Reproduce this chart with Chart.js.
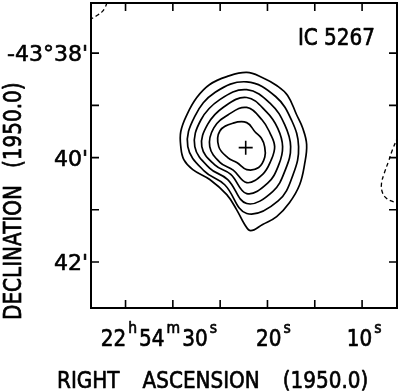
<!DOCTYPE html>
<html>
<head>
<meta charset="utf-8">
<script src="https://cdn.jsdelivr.net/npm/chart.js@4.4.1/dist/chart.umd.min.js"></script>
<style>
  body { margin: 0; background: #fff; }
  canvas { display: block; }
</style>
</head>
<body>
<canvas id="map" width="400" height="391"></canvas>
<script>
// RA in seconds past 22h54m, Dec in arcmin past -43 deg (1950.0)
const raRange = [6.31, 38.65];
const decRange = [37.04, 42.88];
const raTicks = [35, 30, 25, 20, 15, 10];
const decTicks = [38, 39, 40, 41, 42];
const decTickLabels = ["-43°38'", "", "40'", "", "42'"];
const raLabelValues = [30, 20, 10];
const raLabelParts = [["22", "h", "54", "m", "30", "s"], ["20", "s"], ["10", "s"]];

// solid contours, outermost first
const c1RA  = [29.16, 29.16, 28.52, 27.47, 26.10, 24.30, 22.19, 20.51, 19.03, 17.87, 16.92, 16.29, 15.86, 16.08, 16.60, 17.66, 19.03, 20.51, 21.77, 22.41, 23.25, 24.30, 26.10, 27.89, 28.84];
const c1Dec = [39.79, 39.50, 39.18, 38.85, 38.60, 38.45, 38.37, 38.47, 38.62, 38.81, 39.18, 39.43, 39.75, 40.13, 40.52, 40.86, 41.13, 41.28, 41.40, 41.28, 41.00, 40.71, 40.42, 40.23, 40.04];
const c2RA  = [28.42, 27.68, 25.52, 22.19, 19.14, 17.44, 16.71, 17.26, 18.87, 22.19, 24.52, 26.67];
const c2Dec = [39.79, 39.21, 38.75, 38.55, 38.83, 39.29, 39.79, 40.31, 40.83, 41.07, 40.52, 40.26];
const c3RA  = [27.68, 27.04, 25.04, 22.19, 19.61, 18.18, 17.55, 18.08, 19.45, 22.19, 24.20, 26.12];
const c3Dec = [39.79, 39.28, 38.89, 38.70, 38.98, 39.37, 39.79, 40.22, 40.65, 40.88, 40.42, 40.20];
const c4RA  = [26.94, 26.31, 24.62, 22.19, 20.08, 18.91, 18.40, 18.81, 19.98, 22.19, 23.88, 25.57];
const c4Dec = [39.79, 39.36, 39.03, 38.85, 39.13, 39.44, 39.79, 40.14, 40.49, 40.69, 40.32, 40.14];
const c5RA  = [26.10, 25.67, 24.15, 22.19, 20.56, 19.73, 19.24, 19.64, 20.51, 22.19, 23.62, 25.03];
const c5Dec = [39.79, 39.43, 39.18, 39.04, 39.28, 39.53, 39.79, 40.06, 40.32, 40.48, 40.24, 40.09];
const c6RA  = [25.15, 25.03, 23.62, 22.19, 21.30, 20.64, 20.30, 20.28, 20.93, 22.19, 23.20, 24.20];
const c6Dec = [39.79, 39.49, 39.34, 39.33, 39.51, 39.63, 39.79, 39.99, 40.19, 40.23, 40.10, 40.00];

// dashed (negative) contours at the map edges
const dashNwRA  = [38.80, 38.02, 37.49, 37.17, 36.90];
const dashNwDec = [37.36, 37.28, 37.21, 37.13, 37.00];
const dashEastRA  = [6.20, 6.79, 7.22, 7.64, 7.95, 7.85, 7.43, 6.79, 6.20];
const dashEastDec = [39.60, 39.85, 40.08, 40.29, 40.50, 40.67, 40.78, 40.84, 40.87];

// optical position
const peakRA = [22.30];
const peakDec = [39.81];

// closed loop: wrap the ends so every drawn segment has real neighbours
function loopData(ra, dec) {
    const n = ra.length;
    const idx = [n - 1];
    for (let i = 0; i < n; i++) idx.push(i);
    idx.push(0, 1);
    return idx.map(i => ({ x: ra[i], y: dec[i] }));
}

function openData(ra, dec) {
    return ra.map((v, i) => ({ x: v, y: dec[i] }));
}

function contour(ra, dec) {
    const data = loopData(ra, dec);
    const last = data.length - 1;
    return {
        data: data,
        showLine: true,
        borderColor: '#000',
        borderWidth: 1.7,
        pointRadius: 0,
        tension: 0.4,
        fill: false,
        segment: {
            borderColor: ctx => (ctx.p0DataIndex === 0 || ctx.p1DataIndex === last) ? 'rgba(0,0,0,0)' : undefined
        }
    };
}

function dashed(ra, dec) {
    return {
        data: openData(ra, dec),
        showLine: true,
        borderColor: '#000',
        borderWidth: 1.3,
        borderDash: [4, 3],
        pointRadius: 0,
        tension: 0.4,
        fill: false
    };
}

const mainFont = '20px "DejaVu Sans"';
const supFont = '14px "DejaVu Sans"';
const decFont = '22px "DejaVu Sans"';
const raLabelShift = [-14, 6, 2];

// text stretched a little taller and heavier, like the original lettering
function tallText(ctx, text, x, y, stretch) {
    ctx.save();
    ctx.translate(x, y);
    ctx.scale(1, stretch);
    ctx.fillText(text, 0, 0);
    ctx.strokeText(text, 0, 0);
    ctx.restore();
}

function drawWords(ctx, words, x, y, gap, stretch) {
    let xx = x;
    words.forEach(w => {
        tallText(ctx, w, xx, y, stretch);
        xx += ctx.measureText(w).width + gap;
    });
}

const framePlugin = {
    id: 'frame',
    afterDraw(chart) {
        const { ctx, chartArea: a } = chart;
        const xs = chart.scales.x, ys = chart.scales.y;
        ctx.save();
        ctx.strokeStyle = '#000';
        ctx.fillStyle = '#000';
        ctx.lineWidth = 2;
        ctx.strokeRect(a.left, a.top, a.right - a.left, a.bottom - a.top);

        // inward tick marks on all four sides
        ctx.lineWidth = 1.6;
        ctx.beginPath();
        raTicks.forEach(v => {
            const px = xs.getPixelForValue(v);
            ctx.moveTo(px, a.top); ctx.lineTo(px, a.top + 8);
            ctx.moveTo(px, a.bottom); ctx.lineTo(px, a.bottom - 8);
        });
        decTicks.forEach(v => {
            const py = ys.getPixelForValue(v);
            ctx.moveTo(a.left, py); ctx.lineTo(a.left + 8, py);
            ctx.moveTo(a.right, py); ctx.lineTo(a.right - 8, py);
        });
        ctx.stroke();

        ctx.textBaseline = 'alphabetic';
        ctx.lineWidth = 0.6;
        ctx.lineJoin = 'round';

        // Dec labels
        ctx.textAlign = 'right';
        ctx.font = decFont;
        decTicks.forEach((v, i) => {
            if (decTickLabels[i]) tallText(ctx, decTickLabels[i], a.left - 3, ys.getPixelForValue(v) + 8, 1);
        });

        // RA labels with superscript h, m, s
        ctx.textAlign = 'left';
        const base = a.bottom + 38;
        raLabelValues.forEach((v, k) => {
            const parts = raLabelParts[k];
            const widths = parts.map((p, i) => { ctx.font = i % 2 ? supFont : mainFont; return ctx.measureText(p).width; });
            const gap = 2;
            const total = widths.reduce((s, w) => s + w, 0) + gap * (parts.length - 1);
            let xx = xs.getPixelForValue(v) + raLabelShift[k] - total / 2;
            parts.forEach((p, i) => {
                ctx.font = i % 2 ? supFont : mainFont;
                tallText(ctx, p, xx, i % 2 ? base - 13 : base, 1.12);
                xx += widths[i] + gap;
            });
        });

        // axis titles
        ctx.font = '20px "DejaVu Sans"';
        drawWords(ctx, ['RIGHT', 'ASCENSION', '(1950.0)'], 57, 388, 23, 1.12);
        ctx.save();
        ctx.translate(21, 320);
        ctx.rotate(-Math.PI / 2);
        drawWords(ctx, ['DECLINATION', '(1950.0)'], 0, 0, 17, 1.2);
        ctx.restore();

        // source name
        ctx.textAlign = 'right';
        tallText(ctx, 'IC 5267', a.right - 22, a.top + 42, 1.15);
        ctx.restore();
    }
};

new Chart(document.getElementById('map'), {
    type: 'scatter',
    data: {
        datasets: [
            contour(c1RA, c1Dec),
            contour(c2RA, c2Dec),
            contour(c3RA, c3Dec),
            contour(c4RA, c4Dec),
            contour(c5RA, c5Dec),
            contour(c6RA, c6Dec),
            dashed(dashNwRA, dashNwDec),
            dashed(dashEastRA, dashEastDec),
            {
                data: openData(peakRA, peakDec),
                pointStyle: 'cross',
                pointRadius: 7,
                borderColor: '#000',
                borderWidth: 1.6
            }
        ]
    },
    options: {
        responsive: false,
        animation: false,
        events: [],
        layout: { autoPadding: false, padding: { top: 3, right: 3, left: 0, bottom: 0 } },
        plugins: { legend: { display: false }, tooltip: { enabled: false } },
        scales: {
            x: {
                type: 'linear',
                min: raRange[0],
                max: raRange[1],
                reverse: true,
                grid: { display: false },
                border: { display: false },
                ticks: { display: false },
                afterBuildTicks: s => { s.ticks = raTicks.map(v => ({ value: v })); },
                afterFit: s => { s.height = 83; }
            },
            y: {
                type: 'linear',
                min: decRange[0],
                max: decRange[1],
                reverse: true,
                grid: { display: false },
                border: { display: false },
                ticks: { display: false },
                afterBuildTicks: s => { s.ticks = decTicks.map(v => ({ value: v })); },
                afterFit: s => { s.width = 91; }
            }
        }
    },
    plugins: [framePlugin]
});
</script>
</body>
</html>
